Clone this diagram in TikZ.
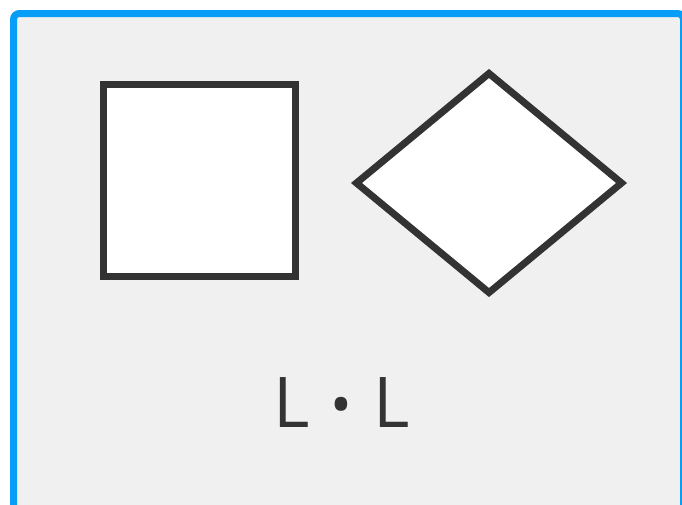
\documentclass[tikz,border=0pt]{standalone}
\usepackage{fontspec}
\setmainfont{Open Sans}
\usetikzlibrary{shapes.geometric}
\definecolor{framebl}{RGB}{8,158,247}
\definecolor{panelgr}{RGB}{240,240,240}
\definecolor{inkgr}{RGB}{51,51,51}
\tikzset{
  shapebox/.style={draw=inkgr,fill=white,line width=7pt,inner sep=0pt,miter limit=10},
}
\begin{document}
\begin{tikzpicture}[x=1pt,y=-1pt]
\useasboundingbox (0,0) rectangle (682,504);
\clip (0,0) rectangle (682,504);
% objects at depth 100:
\path[fill=white] (0,0) rectangle (682,504);
% objects at depth 75:
\path[fill=panelgr,draw=framebl,line width=7pt,rounded corners=6pt] (13.5,13.5) rectangle (683.5,530);
% objects at depth 50:
\node[shapebox,rectangle,minimum size=191.5pt] (square) at (199.25,180.25) {};
\node[shapebox,diamond,minimum width=268pt,minimum height=222pt] (rhombus) at (489,183) {};
\node[text=inkgr,inner sep=0pt,font=\fontsize{70}{70}\selectfont] (label) at (341.5,403)
  {L\hspace{21pt}{\fontsize{58}{58}\selectfont\raisebox{2pt}{•}}\hspace{21pt}L};
\end{tikzpicture}
\end{document}
